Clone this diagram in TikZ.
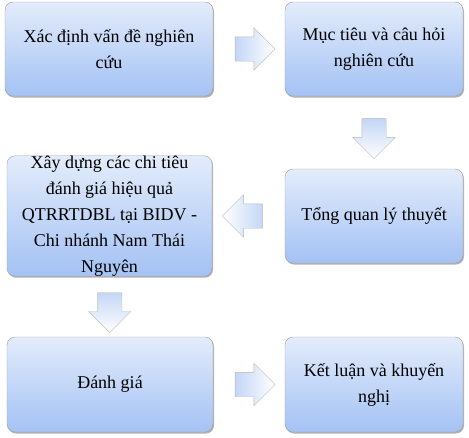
\documentclass[tikz,border=0pt]{standalone}
\usepackage{fontspec}
\setmainfont{Liberation Serif}
\usepackage{tikz}
\usetikzlibrary{shapes,shadows,calc,positioning}
\definecolor{boxtop}{HTML}{E3ECFB}
\definecolor{boxbot}{HTML}{A4C2F4}
\definecolor{arrblue}{HTML}{C4D6F6}

\begin{document}
\begin{tikzpicture}[x=1pt,y=1pt]
  \tikzstyle{Box}=[draw=gray!75, rounded corners=8pt, top color=boxtop, bottom color=boxbot,
    drop shadow={shadow xshift=1pt, shadow yshift=-1.5pt, opacity=0.6},
    align=center, inner sep=0pt, font=\fontsize{18}{26}\selectfont]
  \tikzstyle{Arrow}=[single arrow, draw=gray!55, inner sep=12pt,
    minimum height=40pt, single arrow head extend=9pt]
  \useasboundingbox (0,0) rectangle (469,-437);

  \node[Box, minimum width=208pt, minimum height=94pt] (b1) at (109,-49)
    {Xác định vấn đề nghiên\\cứu};
  \node[Box, minimum width=178pt, minimum height=94pt] (b2) at (374,-49)
    {Mục tiêu và câu hỏi\\nghiên cứu};
  \node[Box, minimum width=205pt, minimum height=116pt] (b3) at (109.5,-216)
    {Xây dựng các chi tiêu\\đánh giá hiệu quả\\QTRRTDBL tại BIDV -\\Chi nhánh Nam Thái\\Nguyên};
  \node[Box, minimum width=178pt, minimum height=94pt] (b4) at (374,-216)
    {Tổng quan lý thuyết};
  \node[Box, minimum width=206pt, minimum height=95pt] (b5) at (110,-384.5)
    {Đánh giá};
  \node[Box, minimum width=178pt, minimum height=95pt] (b6) at (374,-384.5)
    {Kết luận và khuyến\\nghị};

  % block arrows between the boxes
  \node[Arrow, left color=arrblue, right color=white] (a12)
    at ($(b1.east)!0.5!(b2.west)$) {};
  \node[Arrow, shape border rotate=270, top color=arrblue, bottom color=white] (a24)
    at ($(b2.south)!0.5!(b4.north)$) {};
  \node[Arrow, shape border rotate=180, right color=arrblue, left color=white] (a43)
    at ($(b4.west)!0.5!(b3.east)$) {};
  \node[Arrow, shape border rotate=270, top color=arrblue, bottom color=white] (a35)
    at ($(b3.south)!0.5!(b5.north)$) {};
  \node[Arrow, left color=arrblue, right color=white] (a56)
    at ($(b5.east)!0.5!(b6.west)$) {};
\end{tikzpicture}
\end{document}
